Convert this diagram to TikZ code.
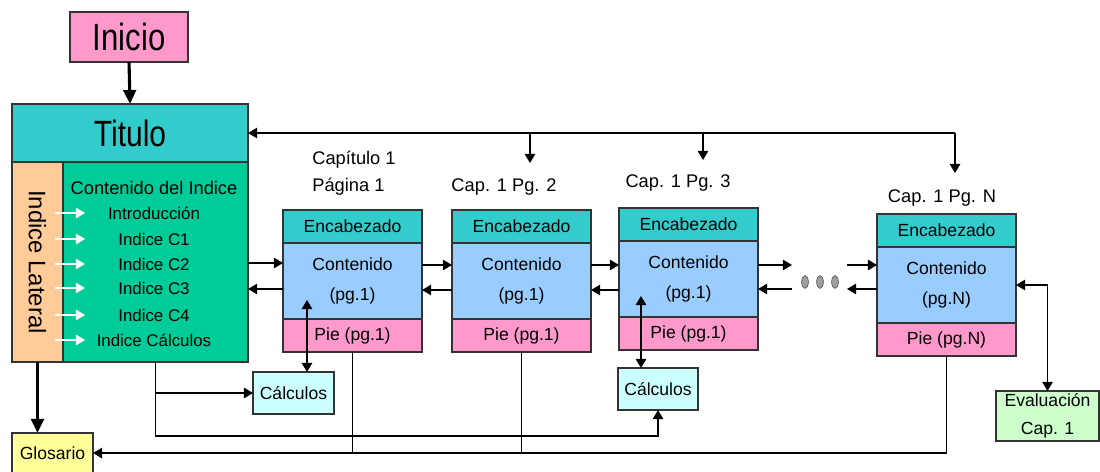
\documentclass[tikz,border=0pt]{standalone}
\usepackage{fontspec}
\setmainfont{Liberation Sans}
\newfontfamily\estrecha[FakeStretch=0.82]{Liberation Sans}
\usepackage{xcolor}
\definecolor{rosa}{HTML}{FF99CC}
\definecolor{turquesa}{HTML}{33CCCC}
\definecolor{verdeindice}{HTML}{00CC99}
\definecolor{durazno}{HTML}{FFCC99}
\definecolor{amarillo}{HTML}{FFFF99}
\definecolor{celeste}{HTML}{99CCFF}
\definecolor{cian}{HTML}{CCFFFF}
\definecolor{verdeclaro}{HTML}{CCFFCC}
\usetikzlibrary{arrows.meta,positioning}
\tikzset{>={Triangle[length=6.5pt,width=7.5pt]}}

\begin{document}
\begin{tikzpicture}[x=0.025cm, y=-0.025cm, line width=0.9pt,
  caja/.style={draw=black!80, line width=1pt, outer sep=0pt, inner sep=0pt,
    align=center, font=\fontsize{12.5}{21}\selectfont},
  cabeza/.style={caja, fill=turquesa, minimum width=3.475cm, minimum height=0.825cm},
  cuerpo/.style={caja, fill=celeste, minimum width=3.475cm, minimum height=1.9cm},
  piebox/.style={caja, fill=rosa, minimum width=3.475cm, minimum height=0.825cm},
  calculos/.style={caja, fill=cian, minimum width=2.025cm, minimum height=1.05cm, anchor=north west},
  etiqueta/.style={font=\fontsize{13}{19}\selectfont},
  gruesa/.style={line width=2.2pt, -{Triangle[length=10pt,width=9pt]}}]

  \useasboundingbox (0,0) rectangle (1100,472);

  % inicio, titulo and the index
  \node[caja, fill=rosa, anchor=north west, minimum width=2.95cm, minimum height=1.25cm,
    font=\estrecha\fontsize{27}{30}\selectfont] (inicio) at (70,12) {Inicio};
  \node[caja, fill=turquesa, anchor=north west, minimum width=5.9cm, minimum height=1.45cm,
    font=\estrecha\fontsize{26}{30}\selectfont] (titulo) at (12,104) {Titulo};
  \node[caja, fill=durazno, anchor=north west, minimum width=1.275cm, minimum height=5cm]
    (lateral) at (12,162) {};
  \node[caja, fill=verdeindice, anchor=north west, minimum width=4.625cm, minimum height=5cm]
    (indice) at (63,162) {};
  \node[rotate=-90, font=\fontsize{17}{20}\selectfont] (lattxt) at (lateral.center) {Indice Lateral};
  \node[etiqueta] (indtxt) at (154,188) {Contenido del Indice};
  \foreach \y/\t in {213/Introducción, 239/Indice C1, 264/Indice C2, 288/Indice C3,
                     315/Indice C4, 340/Indice Cálculos} {
    \node[font=\fontsize{12}{14}\selectfont] at (154,\y) {\t};
    \draw[white, ->] (55,\y) -- (85,\y);
  }
  \draw[gruesa] (inicio.south) -- (titulo.north);

  % glosario and the calculos boxes
  \node[caja, fill=amarillo, anchor=north west, minimum width=2.025cm, minimum height=1cm]
    (glosario) at (12,433) {Glosario};
  \node[calculos] (calc1) at (253,372) {Cálculos};
  \node[calculos, minimum width=2cm] (calc2) at (618,368) {Cálculos};
  \node[caja, fill=verdeclaro, anchor=north west, minimum width=2.575cm, minimum height=1.25cm,
    font=\fontsize{12.5}{20}\selectfont] (eval) at (996,391) {Evaluación\\Cap. 1};
  \draw[gruesa] (lateral.south) -- (lateral.south |- glosario.north);

  % the pages
  \node[cabeza, anchor=north west] (e1) at (283,210) {Encabezado};
  \node[cuerpo, below=0pt of e1] (c1) {Contenido\\(pg.1)};
  \node[piebox, below=0pt of c1] (p1) {Pie (pg.1)};
  \node[cabeza, anchor=north west] (e2) at (452,210) {Encabezado};
  \node[cuerpo, below=0pt of e2] (c2) {Contenido\\(pg.1)};
  \node[piebox, below=0pt of c2] (p2) {Pie (pg.1)};
  \node[cabeza, anchor=north west] (e3) at (619,208) {Encabezado};
  \node[cuerpo, below=0pt of e3] (c3) {Contenido\\(pg.1)};
  \node[piebox, below=0pt of c3] (p3) {Pie (pg.1)};
  \node[cabeza, anchor=north west] (eN) at (877,214) {Encabezado};
  \node[cuerpo, below=0pt of eN] (cN) {Contenido\\(pg.N)};
  \node[piebox, below=0pt of cN] (pN) {Pie (pg.N)};

  \node[etiqueta, align=left, anchor=west] (l1) at (307,173) {Capítulo 1\\Página 1};
  \node[etiqueta] (l2) at (504,187) {Cap. 1 Pg. 2};
  \node[etiqueta] (l3) at (678,183) {Cap. 1 Pg. 3};
  \node[etiqueta] (lN) at (942,198) {Cap. 1 Pg. N};

  % forward and back between pages
  \draw[->] (indice.east |- 0,263) -- (c1.west |- 0,263);
  \draw[->] (c1.west |- 0,289) -- (indice.east |- 0,289);
  \draw[->] (c1.east |- 0,265) -- (c2.west |- 0,265);
  \draw[->] (c2.west |- 0,290) -- (c1.east |- 0,290);
  \draw[->] (c2.east |- 0,265) -- (c3.west |- 0,265);
  \draw[->] (c3.west |- 0,290) -- (c2.east |- 0,290);
  \coordinate (g1) at (792,265);
  \coordinate (g2) at (847,265);
  \draw[->] (c3.east |- g1) -- (g1);
  \draw[->] (g1 |- 0,289) -- (c3.east |- 0,289);
  \draw[->] (g2) -- (cN.west |- g2);
  \draw[->] (cN.west |- 0,289) -- (g2 |- 0,289);
  \foreach \x in {805,820,835}
    \filldraw[fill=gray!75, draw=gray!60!black, line width=0.4pt] (\x,282) ellipse [x radius=0.085cm, y radius=0.16cm];

  % back to the title
  \coordinate (b2) at (530,163);
  \coordinate (b3) at (703,160);
  \coordinate (bN) at (955,173);
  \draw[->] (bN |- titulo.east) -- (titulo.east);
  \draw[->] (b2 |- titulo.east) -- (b2);
  \draw[->] (b3 |- titulo.east) -- (b3);
  \draw[->] (bN |- titulo.east) -- (bN);

  % calculos and evaluacion
  \coordinate (k1) at (307,300);
  \coordinate (k2) at (641,296);
  \draw[<->] (k1) -- (k1 |- calc1.north);
  \draw[<->] (k2) -- (k2 |- calc2.north);
  \draw[<->] (cN.east) -| (eval.north);
  \draw[->] (indice.south |- calc1.west) -- (calc1.west);
  \draw[->] (indice.south) -- ++(0,74) -| (calc2.south);

  % down to the glossary
  \draw[->] (pN.south) |- (glosario.east);
  \draw (p1.south) -- (p1.south |- glosario.east);
  \draw (p2.south) -- (p2.south |- glosario.east);

\end{tikzpicture}
\end{document}
